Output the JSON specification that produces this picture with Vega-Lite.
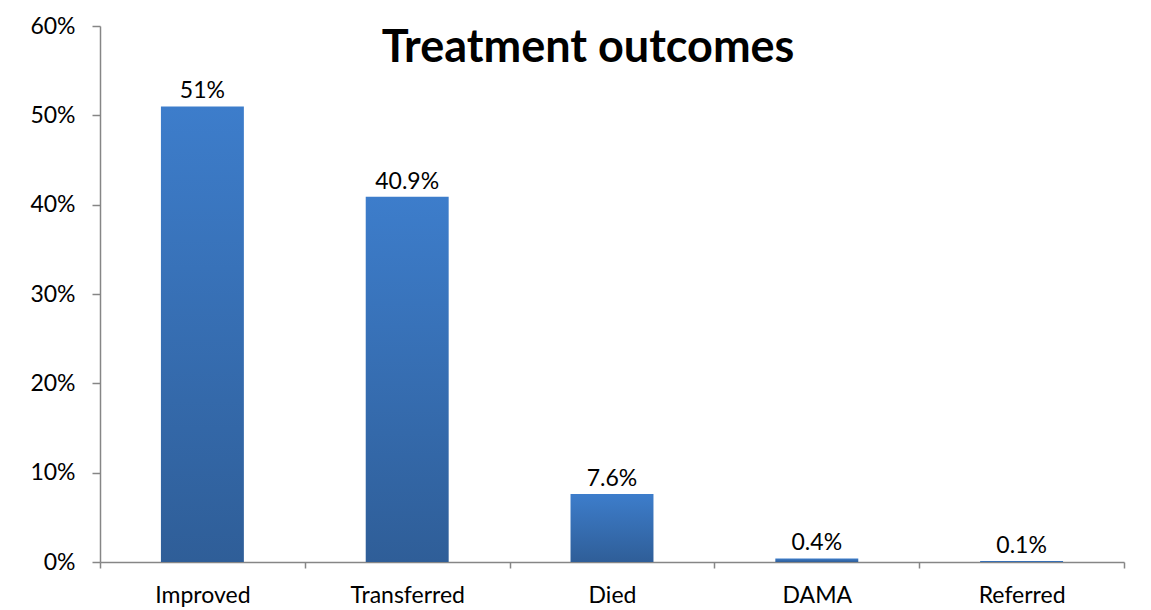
{
  "$schema": "https://vega.github.io/schema/vega-lite/v6.json",
  "width": 1024,
  "height": 536,
  "autosize": {"type": "none"},
  "padding": {"left": 100, "top": 26, "right": 27, "bottom": 48},
  "background": "white",
  "title": {
    "text": "Treatment outcomes",
    "font": "Lato",
    "fontSize": 45,
    "fontWeight": "bold",
    "color": "#000000",
    "anchor": "middle",
    "dx": -24,
    "baseline": "top",
    "offset": -56
  },
  "data": {
    "values": [
      {"outcome": "Improved", "pct": 51, "label": "51%"},
      {"outcome": "Transferred", "pct": 40.9, "label": "40.9%"},
      {"outcome": "Died", "pct": 7.6, "label": "7.6%"},
      {"outcome": "DAMA", "pct": 0.4, "label": "0.4%"},
      {"outcome": "Referred", "pct": 0.1, "label": "0.1%"}
    ]
  },
  "encoding": {
    "x": {
      "field": "outcome",
      "type": "nominal",
      "sort": null,
      "title": null,
      "scale": {"paddingInner": 0, "paddingOuter": 0},
      "axis": {
        "labelAngle": 0,
        "labelFont": "Lato",
        "labelFontSize": 23,
        "labelColor": "#000000",
        "labelPadding": 16,
        "domainColor": "#868686",
        "domainWidth": 1.5,
        "tickColor": "#868686",
        "tickWidth": 1.5,
        "tickSize": 6,
        "tickBand": "extent",
        "grid": false
      }
    },
    "y": {
      "field": "pct",
      "type": "quantitative",
      "title": null,
      "scale": {"domain": [0, 60], "nice": false},
      "axis": {
        "values": [0, 10, 20, 30, 40, 50, 60],
        "labelExpr": "datum.value + '%'",
        "labelFont": "Lato",
        "labelFontSize": 23,
        "labelColor": "#000000",
        "labelPadding": 17,
        "domainColor": "#868686",
        "domainWidth": 1.5,
        "tickColor": "#868686",
        "tickWidth": 1.5,
        "tickSize": 8,
        "grid": false
      }
    }
  },
  "layer": [
    {
      "mark": {
        "type": "bar",
        "width": {"band": 0.405},
        "color": {
          "gradient": "linear",
          "x1": 0, "y1": 0, "x2": 0, "y2": 1,
          "stops": [
            {"offset": 0, "color": "#3d7dcb"},
            {"offset": 1, "color": "#2f5e98"}
          ]
        }
      }
    },
    {
      "mark": {
        "type": "text",
        "font": "Lato",
        "fontSize": 23,
        "color": "#000000",
        "baseline": "alphabetic",
        "dy": -8
      },
      "encoding": {"text": {"field": "label"}}
    }
  ],
  "config": {"view": {"stroke": null}}
}
